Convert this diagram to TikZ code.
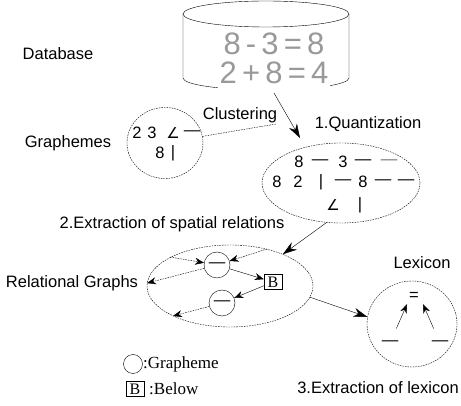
\documentclass[tikz,border=0pt]{standalone}
\usepackage{fontspec}
\setmainfont{Liberation Sans}
\newfontfamily\legendfont{Liberation Serif}
\newfontfamily\symfont{DejaVu Sans}
\usetikzlibrary{arrows.meta,shapes.geometric}

\newcommand{\angsym}{{\symfont\fontsize{15}{17}\selectfont ∠}}

\begin{document}
\begin{tikzpicture}[
  x=1pt, y=-1pt,
  every node/.style={font=\fontsize{16.5}{18}\selectfont, inner sep=0pt},
  cluster/.style={draw, ellipse, thin, dash pattern=on 1.6pt off 1pt},
  big arrow/.style={-{Stealth[length=14pt,width=9pt]}, thin},
  small arrow/.style={-{Stealth[length=9pt,width=7pt]}, thin},
  dashed arrow/.style={small arrow, dash pattern=on 1.6pt off 1pt},
  grapheme/.style={draw, circle, minimum size=26pt},
  relbox/.style={draw, minimum width=18pt, minimum height=15pt, font=\legendfont\fontsize{16}{18}\selectfont},
  legend/.style={anchor=west, font=\legendfont\fontsize{17}{19}\selectfont},
  hand/.style={text=black!40, font=\fontsize{31}{34}\selectfont}
  ]
  \useasboundingbox (0,0) rectangle (461,406);

  % database
  \draw (183,14) -- (183,78) arc (180:0:83 and 12) -- (349,14);
  \draw (266,14) ellipse (83 and 13);
  \fill[white] (218,30) rectangle (330,92);
  \node[hand] (eq1) at (274,44) {8\,-\,3\,=\,8};
  \node[hand] (eq2) at (274,73) {2\,+\,8\,=\,4};
  \coordinate (dbout) at (274,93);
  \node (database) at (58,54) {Database};

  % graphemes
  \node (grlabel) at (68,143) {Graphemes};
  \node[cluster, minimum width=76pt, minimum height=71pt] (graphemes) at (165,143) {};
  \foreach \t/\x/\y [count=\i] in {2/137/133, 3/152/133, \angsym/173/133, ---/192/133, 8/160/153, |/173/153}
    \node (gr\i) at (\x,\y) {\t};
  \node (clustering) at (240,115) {Clustering};
  \coordinate (clusterend) at (276,124);
  \draw[dash pattern=on 1.6pt off 1pt] (graphemes.10) -- (clusterend);

  % quantization
  \node (quantlabel) at (368,124) {1.Quantization};
  \node[cluster, minimum width=158pt, minimum height=80pt] (quant) at (341,183) {};
  \coordinate (quantin) at (300,138);
  \draw[big arrow] (dbout) -- (quantin);
  \foreach \t/\x/\y [count=\i] in {8/299/162, ---/320/162, 3/343/162, ---/363/162,
      8/277/182, 2/298/182, |/321/182, ---/343/182, 8/363/182, ---/383/182, ---/406/182,
      \angsym/333/205, |/360/205}
    \node (q\i) at (\x,\y) {\t};
  \node[text=black!55] (qlast) at (389,162) {---};

  % spatial relations
  \node (spatial) at (172,224) {2.Extraction of spatial relations};
  \node (rellabel) at (72,283) {Relational Graphs};
  \node[cluster, minimum width=166pt, minimum height=82pt] (relgraph) at (230,286) {};
  \draw[big arrow] (quant.250) -- (relgraph.31);
  \node[grapheme] (g1) at (217,265) {---};
  \node[grapheme] (g2) at (222,303) {---};
  \node[relbox] (below) at (273,282) {B};
  \coordinate (r1) at (170,257);
  \coordinate (r2) at (267,249);
  \coordinate (r4) at (173,316);
  \draw[dashed arrow] (r1) -- (g1);
  \draw[dashed arrow] (r2) -- (g1);
  \draw[small arrow] (g1) -- (below);
  \draw[dashed arrow] (g1) -- (relgraph.178);
  \draw[small arrow] (below) -- (g2);
  \draw[dashed arrow] (g2) -- (r4);

  % lexicon
  \node (lexlabel) at (422,263) {Lexicon};
  \node[cluster, minimum width=90pt, minimum height=86pt] (lexicon) at (412,324) {};
  \node (lexeq) at (414,296) {=};
  \node (lexa) at (390,343) {---};
  \node (lexb) at (440,343) {---};
  \draw[small arrow, shorten <=13pt] (lexa) -- ([xshift=-7pt,yshift=-4pt]lexeq.south);
  \draw[small arrow, shorten <=13pt] (lexb) -- ([xshift=9pt,yshift=-4pt]lexeq.south);
  \draw[big arrow] (relgraph.-8) -- (lexicon.171);
  \node (lexstep) at (378,388) {3.Extraction of lexicon};

  % legend
  \node[draw, circle, minimum size=19pt] (legcirc) at (133,364) {};
  \node[legend] (legcirctext) at (143,364) {:Grapheme};
  \node[relbox] (legbox) at (135,389) {B};
  \node[legend] (legboxtext) at (149,389) {:Below};
\end{tikzpicture}
\end{document}
